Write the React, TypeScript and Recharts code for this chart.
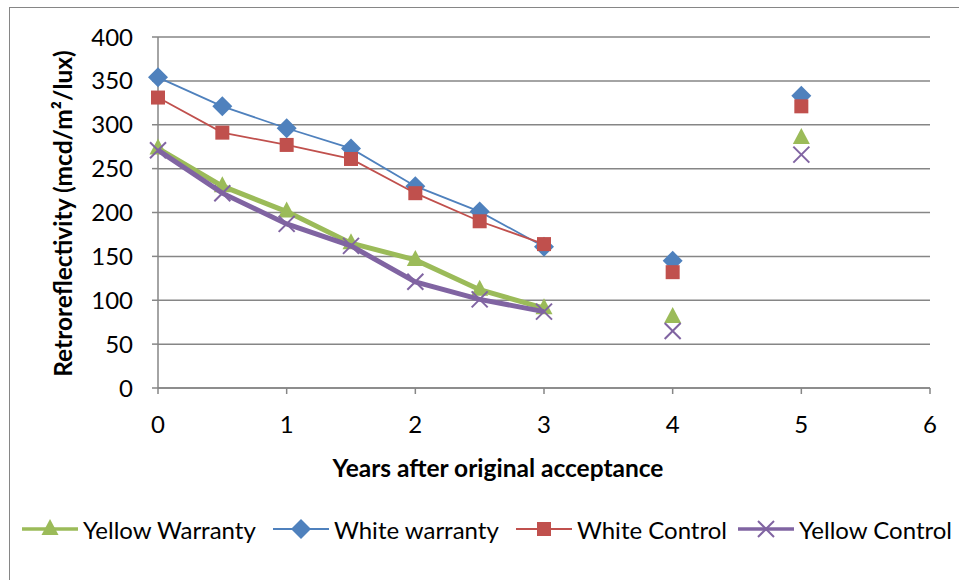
import React from 'react';
import { ScatterChart, Scatter, XAxis, YAxis, CartesianGrid } from 'recharts';

// Years with a connected trend line, then the two later readings (markers only)
const years = [0, 0.5, 1, 1.5, 2, 2.5, 3];
const laterYears = [4, 5];

const yellowWarranty = [273, 230, 201, 165, 146, 112, 91];
const yellowWarrantyLater = [81, 285];
const whiteWarranty = [354, 321, 296, 273, 230, 201, 161];
const whiteWarrantyLater = [145, 333];
const whiteControl = [331, 291, 277, 261, 222, 190, 164];
const whiteControlLater = [132, 321];
const yellowControl = [271, 222, 187, 162, 121, 101, 87];
const yellowControlLater = [65, 266];

const xTicks = [0, 1, 2, 3, 4, 5, 6];
const yTicks = [0, 50, 100, 150, 200, 250, 300, 350, 400];

const FONT = "Lato, 'Open Sans', sans-serif";
const GRID = '#868686';

// left edge of each legend entry's line sample
const legendLeft = [22, 273, 516, 738];

type Kind = 'triangle' | 'diamond' | 'square' | 'cross';

const Marker = ({ cx, cy, kind, color }: { cx: number; cy: number; kind: Kind; color: string }) => {
  if (cx == null || cy == null) return null;
  if (kind === 'diamond') {
    return <polygon points={`${cx},${cy - 10} ${cx + 10},${cy} ${cx},${cy + 10} ${cx - 10},${cy}`} fill={color} />;
  }
  if (kind === 'square') {
    return <rect x={cx - 7} y={cy - 7} width={14} height={14} fill={color} />;
  }
  if (kind === 'triangle') {
    return <polygon points={`${cx},${cy - 10} ${cx + 8.5},${cy + 6} ${cx - 8.5},${cy + 6}`} fill={color} />;
  }
  return (
    <g stroke={color} strokeWidth={2}>
      <line x1={cx - 8} y1={cy - 8} x2={cx + 8} y2={cy + 8} />
      <line x1={cx - 8} y1={cy + 8} x2={cx + 8} y2={cy - 8} />
    </g>
  );
};

const toPoints = (xs: number[], ys: number[]) => xs.map((x, i) => ({ x, y: ys[i] }));

const series = [
  { name: 'Yellow Warranty', color: '#9BBB59', width: 5, legendWidth: 3.5, kind: 'triangle' as Kind, early: yellowWarranty, later: yellowWarrantyLater },
  { name: 'White warranty', color: '#4F81BD', width: 1.8, legendWidth: 1.8, kind: 'diamond' as Kind, early: whiteWarranty, later: whiteWarrantyLater },
  { name: 'White Control', color: '#C0504D', width: 1.8, legendWidth: 1.8, kind: 'square' as Kind, early: whiteControl, later: whiteControlLater },
  { name: 'Yellow Control', color: '#8064A2', width: 5, legendWidth: 3.5, kind: 'cross' as Kind, early: yellowControl, later: yellowControlLater },
];

export default function App() {
  return (
    <div style={{ position: 'absolute', left: 0, top: 0, width: 959, height: 580, overflow: 'hidden', background: '#fff' }}>
      <div style={{ position: 'absolute', left: 9, top: 7, width: 1200, height: 800, borderLeft: `1.5px solid ${GRID}`, borderTop: `1.5px solid ${GRID}` }} />
      <div style={{ position: 'absolute', left: 0, top: 0 }}>
        <ScatterChart width={959} height={580} margin={{ top: 37, right: 29, bottom: 112, left: 0 }}>
          <CartesianGrid vertical={false} stroke={GRID} strokeWidth={1.5} />
          <XAxis
            type="number"
            dataKey="x"
            domain={[0, 6]}
            ticks={xTicks}
            height={80}
            stroke={GRID}
            strokeWidth={1.5}
            tickSize={6}
            tickMargin={22}
            tick={{ fill: '#000', fontSize: 24, fontFamily: FONT }}
            label={{
              content: () => (
                <text x={498} y={477} textAnchor="middle" fontFamily={FONT} fontWeight="bold" fontSize={24.5} fill="#000">
                  Years after original acceptance
                </text>
              ),
            }}
          />
          <YAxis
            type="number"
            dataKey="y"
            domain={[0, 400]}
            ticks={yTicks}
            width={158}
            stroke={GRID}
            strokeWidth={1.5}
            tickSize={6}
            tickMargin={19}
            tick={{ fill: '#000', fontSize: 24, fontFamily: FONT }}
            label={{
              content: (p: any) => {
                const vb = p.viewBox || {};
                const cy = vb.y + vb.height / 2 + 1;
                return (
                  <text x={62} y={cy} transform={`rotate(-90, 62, ${cy})`} textAnchor="middle" dominantBaseline="central" fontFamily={FONT} fontWeight="bold" fontSize={24.5} fill="#000">
                    Retroreflectivity (mcd/m²/lux)
                  </text>
                );
              },
            }}
          />
          {series.map((s) => (
            <Scatter
              key={s.name}
              name={s.name}
              data={toPoints(years, s.early)}
              fill={s.color}
              line={{ stroke: s.color, strokeWidth: s.width }}
              shape={(p: any) => <Marker cx={p.cx} cy={p.cy} kind={s.kind} color={s.color} />}
              isAnimationActive={false}
            />
          ))}
          {series.map((s) => (
            <Scatter
              key={s.name + '-later'}
              name={s.name + ' later'}
              data={toPoints(laterYears, s.later)}
              fill={s.color}
              shape={(p: any) => <Marker cx={p.cx} cy={p.cy} kind={s.kind} color={s.color} />}
              isAnimationActive={false}
            />
          ))}
        </ScatterChart>
      </div>
      {series.map((s, i) => (
        <div
          key={s.name}
          style={{ position: 'absolute', left: legendLeft[i], top: 514, display: 'flex', alignItems: 'center', fontFamily: FONT, fontSize: 24, color: '#000', whiteSpace: 'nowrap' }}
        >
          <svg width={56} height={30}>
            <line x1={0} y1={15} x2={56} y2={15} stroke={s.color} strokeWidth={s.legendWidth} />
            <Marker cx={28} cy={15} kind={s.kind} color={s.color} />
          </svg>
          <span style={{ marginLeft: 5 }}>{s.name}</span>
        </div>
      ))}
    </div>
  );
}
